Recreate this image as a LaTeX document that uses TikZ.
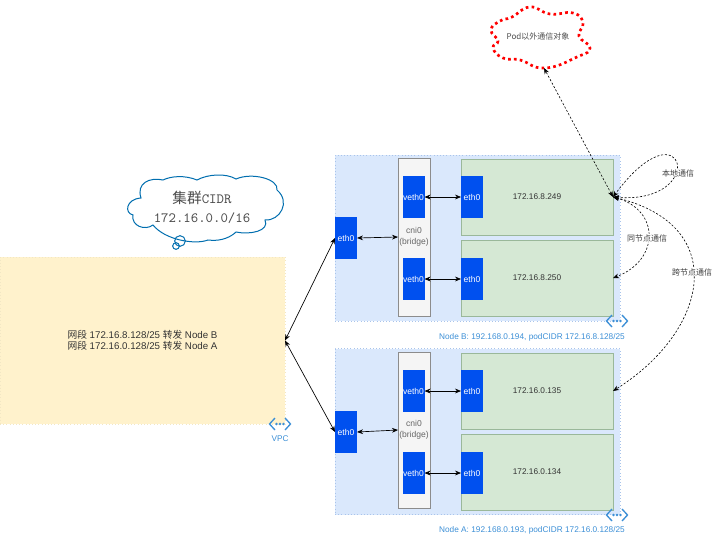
\documentclass[tikz,border=0pt]{standalone}
\usepackage{fontspec}
\setmainfont{Liberation Sans}
\newfontfamily\cjk{Noto Sans CJK SC}
\usepackage{xcolor}
\usetikzlibrary{arrows.meta}

\definecolor{panelblue}{HTML}{DAE8FC}
\definecolor{panelline}{HTML}{A9C4EB}
\definecolor{vpcyellow}{HTML}{FFF2CC}
\definecolor{podgreen}{HTML}{D5E8D4}
\definecolor{podline}{HTML}{9AB89A}
\definecolor{ethblue}{HTML}{0050EF}
\definecolor{groupblue}{HTML}{3C8FD6}
\definecolor{cloudblue}{HTML}{006EAF}

\tikzset{
  nodepanel/.style={draw=panelline,dotted,fill=panelblue,minimum width=213.75pt,minimum height=124.5pt,outer sep=0pt,inner sep=0pt},
  vpcpanel/.style={draw=vpcyellow!90!gray,dotted,fill=vpcyellow,minimum width=213.75pt,minimum height=125pt,outer sep=0pt,font=\fontsize{7.3}{8.25}\selectfont,align=center,text=black!80},
  bridgebox/.style={draw=black!45,line width=0.6pt,fill=black!4,text=black!60,minimum width=24pt,outer sep=0pt,inner sep=0pt,font=\fontsize{6.4}{8.2}\selectfont,align=center},
  podbox/.style={draw=podline,fill=podgreen,minimum width=114pt,minimum height=57pt,outer sep=0pt,font=\fontsize{6.2}{8}\selectfont,text=black!80},
  ethbox/.style={fill=ethblue,text=white,minimum width=16.5pt,minimum height=31.5pt,outer sep=0pt,inner sep=0pt,font=\fontsize{6.4}{8}\selectfont},
  link/.style={>={Stealth[length=4.5pt,width=3.6pt]},<->,line width=0.5pt},
  chatlink/.style={link,dash pattern=on 1.6pt off 1.3pt,line width=0.45pt},
  chatlabel/.style={fill=white,inner sep=0.6pt,text=black!75,font=\cjk\fontsize{6}{7}\selectfont},
  grouplabel/.style={text=groupblue,inner sep=0pt,font=\fontsize{6.2}{8}\selectfont},
  cloudline/.style={draw=cloudblue,line width=0.75pt},
  groupmark/.pic={
    \draw[groupblue,line width=1pt] (-5,-6) -- (-10.5,0) -- (-5,6);
    \draw[groupblue,line width=1pt] (5,-6) -- (10.5,0) -- (5,6);
    \fill[groupblue] (-3.5,0) circle (1pt) (0,0) circle (1pt) (3.5,0) circle (1pt);
  },
}

\begin{document}
\begin{tikzpicture}[x=0.75pt,y=-0.75pt]
\useasboundingbox (0,0) rectangle (720,535);

% VPC
\node[vpcpanel] (vpc) at (142.5,340.5) {{\cjk 网段} 172.16.8.128/25 {\cjk 转发} Node B\\{\cjk 网段} 172.16.0.128/25 {\cjk 转发} Node A};
\pic at (280,424) {groupmark};
\node[grouplabel] (vpclabel) at (280,439) {VPC};

% Node B
\node[nodepanel] (panelB) at (477.5,238) {};
\node[bridgebox,minimum height=118.5pt] (cniB) at (414,237) {cni0\\(bridge)};
\node[podbox] (podBa) at (537,197) {172.16.8.249};
\node[podbox] (podBb) at (537,278) {172.16.8.250};
\node[ethbox] (ethB) at (346,238) {eth0};
\node[ethbox] (vethBa) at (413.5,197) {veth0};
\node[ethbox] (vethBb) at (413.5,279) {veth0};
\node[ethbox] (ethBa) at (472,197) {eth0};
\node[ethbox] (ethBb) at (472,279) {eth0};
\pic at (617,321) {groupmark};
\node[grouplabel] (labelB) at (532,337) {Node B: 192.168.0.194, podCIDR 172.16.8.128/25};

% Node A
\node[nodepanel] (panelA) at (477.5,431.5) {};
\node[bridgebox,minimum height=117pt] (cniA) at (414,430) {cni0\\(bridge)};
\node[podbox] (podAa) at (537,391) {172.16.0.135};
\node[podbox] (podAb) at (537,472) {172.16.0.134};
\node[ethbox] (ethA) at (346,432) {eth0};
\node[ethbox] (vethAa) at (413.5,391) {veth0};
\node[ethbox] (vethAb) at (413.5,473) {veth0};
\node[ethbox] (ethAa) at (472,391) {eth0};
\node[ethbox] (ethAb) at (472,473) {eth0};
\pic at (617,515) {groupmark};
\node[grouplabel] (labelA) at (532,530) {Node A: 192.168.0.193, podCIDR 172.16.0.128/25};

% Clouds
\draw[cloudline,fill=white] (141,198) .. controls (126,199) and (124,213) .. (133,215)
    .. controls (131,226) and (145,231) .. (153,225)
    .. controls (165,240) and (195,245) .. (208,240)
    .. controls (222,242) and (232,236) .. (236,232)
    .. controls (250,235) and (270,231) .. (265,220)
    .. controls (280,221) and (291,202) .. (277,190)
    .. controls (279,179) and (252,172) .. (236,179)
    .. controls (226,173) and (208,174) .. (197,180)
    .. controls (185,175) and (171,176) .. (163,180)
    .. controls (150,177) and (136,183) .. (141,198) -- cycle;
\draw[cloudline] (180,241) circle (4pt);
\draw[cloudline] (176,246) circle (2.5pt);
\node[align=center,text=black!70,inner sep=0pt,font=\fontsize{10.6}{14.3}\selectfont] (cidrtext) at (202,207) {{\cjk\fontsize{11}{14.3}\selectfont 集群}\texttt{CIDR}\\\texttt{172.16.0.0/16}};
\draw[red,line width=2pt,dash pattern=on 2pt off 2.4pt] plot[smooth cycle,tension=0.85] coordinates {(491,30) (500,21) (512,17) (530,7) (550,14) (573,13) (583,23) (579,36) (590,48) (577,57) (545,68) (520,60) (503,58) (493,48) (498,41)};
\coordinate (podcloudtip) at (544,68);
\node[text=black!70,inner sep=0pt,font=\cjk\fontsize{6}{7}\selectfont] (podtext) at (538,36) {Pod以外通信对象};

% Solid links
\draw[link] (vpc.east) -- (ethB.west);
\draw[link] (vpc.east) -- (ethA.west);
\draw[link] (ethB.east) -- (cniB.west);
\draw[link] (ethA.east) -- (cniA.west);
\draw[link] (vethBa.east) -- (ethBa.west);
\draw[link] (vethBb.east) -- (ethBb.west);
\draw[link] (vethAa.east) -- (ethAa.west);
\draw[link] (vethAb.east) -- (ethAb.west);

% Pod traffic
\draw[chatlink] (podBa.east) -- (podcloudtip);
\draw[chatlink] (podBa.east) .. controls (710,205) and (685,100) .. (podBa.east);
\draw[chatlink] (podBa.east) .. controls (660,210) and (660,260) .. (podBb.east);
\draw[chatlink] (podBa.east) .. controls (730,225) and (710,330) .. (podAa.east);
\node[chatlabel] (locallabel) at (678,173) {本地通信};
\node[chatlabel] (samelabel) at (647,238) {同节点通信};
\node[chatlabel] (crosslabel) at (692,272) {跨节点通信};
\end{tikzpicture}
\end{document}
